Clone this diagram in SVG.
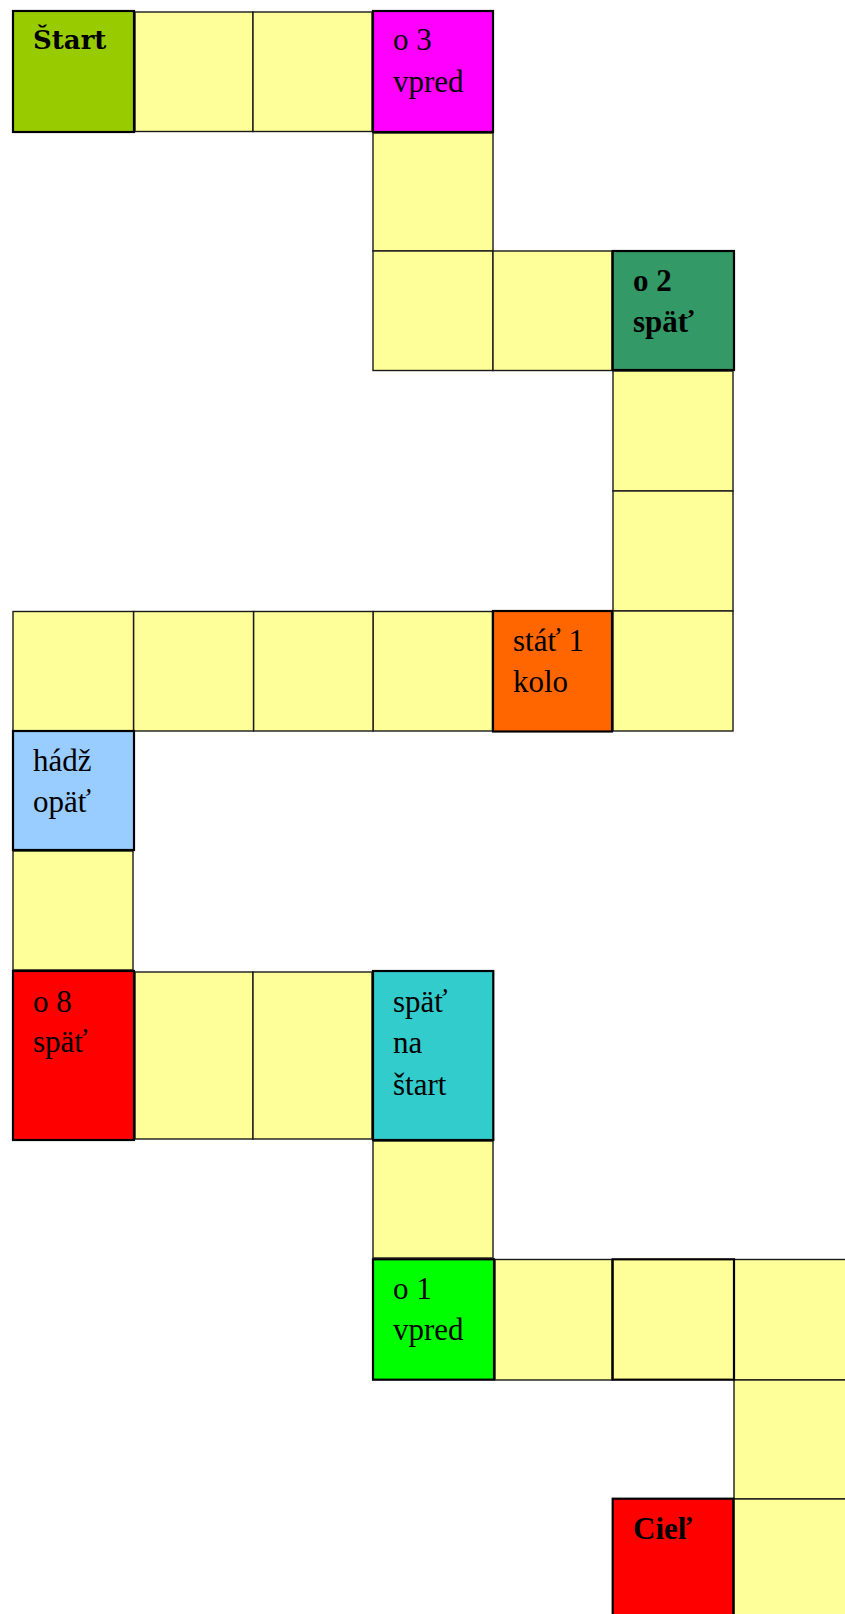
<svg xmlns="http://www.w3.org/2000/svg" width="845" height="1614" viewBox="0 0 845 1614">
<style>
.y{fill:#FFFF99;stroke:#1a1a1a;stroke-width:1.4}
.s{stroke:#000;stroke-width:2.2}
.t{font-family:"Liberation Serif","Times New Roman",serif;font-size:31px;fill:#000}
.b{font-weight:bold}
</style>
<rect width="845" height="1614" fill="#fff"/>
<g id="cells">
<g id="c1"><rect class="y" x="135" y="12" width="118" height="119.5"/></g>
<g id="c2"><rect class="y" x="253" y="12" width="119" height="119.5"/></g>
<g id="c4"><rect class="y" x="373" y="133" width="120" height="118"/></g>
<g id="c5"><rect class="y" x="373" y="251" width="120" height="119.5"/></g>
<g id="c6"><rect class="y" x="493" y="251" width="119" height="119.5"/></g>
<g id="c8"><rect class="y" x="613" y="371" width="120" height="120"/></g>
<g id="c9"><rect class="y" x="613" y="491" width="120" height="120"/></g>
<g id="c10"><rect class="y" x="613" y="611" width="120" height="120"/></g>
<g id="c12"><rect class="y" x="373" y="611.5" width="119.5" height="119.5"/></g>
<g id="c13"><rect class="y" x="253.5" y="611.5" width="119.5" height="119.5"/></g>
<g id="c14"><rect class="y" x="133.5" y="611.5" width="120" height="119.5"/></g>
<g id="c15"><rect class="y" x="13" y="611.5" width="120.5" height="119.5"/></g>
<g id="c17"><rect class="y" x="13" y="851" width="120" height="119"/></g>
<g id="c19"><rect class="y" x="135" y="972" width="118" height="167"/></g>
<g id="c20"><rect class="y" x="253" y="972" width="119" height="167"/></g>
<g id="c22"><rect class="y" x="373" y="1141" width="120" height="117"/></g>
<g id="c24"><rect class="y" x="495" y="1259.5" width="117" height="120.5"/></g>
<g id="c26"><rect class="y" x="734" y="1259.5" width="120" height="120.5"/></g>
<g id="c27"><rect class="y" x="734" y="1380" width="120" height="119"/></g>
<g id="c28"><rect class="y" x="734" y="1499" width="120" height="120"/></g>

<g id="start"><rect class="s" x="13" y="11" width="121" height="121" fill="#99CC00"/>
<text x="33" y="49" style="font-family:'DejaVu Serif',serif;font-size:26px;font-weight:bold;fill:#000">Štart</text></g>
<g id="c3"><rect class="s" x="373" y="11" width="120" height="121" fill="#FF00FF"/>
<text class="t" x="393" y="50">o 3</text><text class="t" x="393" y="91.5">vpred</text></g>
<g id="c7"><rect class="s" x="612.7" y="251" width="121.3" height="119" fill="#339966"/>
<text class="t b" x="633" y="290.5">o 2</text><text class="t b" x="633" y="332">späť</text></g>
<g id="c11"><rect class="s" x="493" y="611" width="119" height="120.5" fill="#FF6600"/>
<text class="t" x="513" y="651">stáť 1</text><text class="t" x="513" y="692">kolo</text></g>
<g id="c16"><rect class="s" x="13" y="731" width="121" height="119" fill="#99CCFF"/>
<text class="t" x="33" y="770.5">hádž</text><text class="t" x="33" y="811.5">opäť</text></g>
<g id="c18"><rect class="s" x="13" y="971" width="121" height="169" fill="#FF0000"/>
<text class="t" x="33" y="1011.5">o 8</text><text class="t" x="33" y="1051.5">späť</text></g>
<g id="c21"><rect class="s" x="373" y="971" width="120.3" height="169" fill="#33CCCC"/>
<text class="t" x="393" y="1011.5">späť</text><text class="t" x="393" y="1052.5">na</text><text class="t" x="393" y="1095">štart</text></g>
<g id="c23"><rect class="s" x="373" y="1259.3" width="121" height="120.4" fill="#00FF00"/>
<text class="t" x="393" y="1299">o 1</text><text class="t" x="393" y="1340">vpred</text></g>
<g id="c25"><rect class="s" x="612.7" y="1259.3" width="121.3" height="120.4" fill="#FFFF99"/></g>
<g id="ciel"><rect class="s" x="612.7" y="1498.7" width="120.6" height="125" fill="#FF0000"/>
<text class="t b" x="633" y="1539">Cieľ</text></g>
</g>
<g id="connectors"/>
</svg>
